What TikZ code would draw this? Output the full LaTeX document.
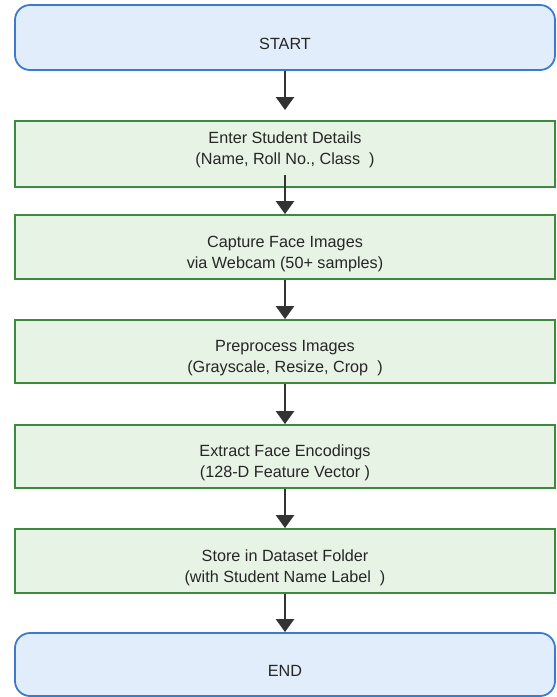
\documentclass[tikz,border=0pt]{standalone}
\usepackage{fontspec}
\setmainfont{Liberation Sans}
\usetikzlibrary{arrows.meta}
\definecolor{txtc}{HTML}{262626}
\definecolor{arrc}{HTML}{333333}
\definecolor{greenb}{HTML}{3B8A3E}
\definecolor{greenf}{HTML}{E7F3E5}
\definecolor{blueb}{HTML}{3A7BD0}
\definecolor{bluef}{HTML}{E1EDFB}
\tikzset{
  procbox/.style={draw=greenb, fill=greenf, line width=1.8pt, minimum width=540pt, inner sep=0pt},
  termbox/.style={draw=blueb, fill=bluef, line width=1.8pt, minimum width=540pt, inner sep=0pt, rounded corners=15pt},
  lbl/.style={text=txtc, font=\fontsize{16.2}{21}\selectfont, align=center, inner sep=0pt},
  flow/.style={draw=arrc, line width=2.3pt, -{Triangle[width=18pt,length=13pt]}}
}
\begin{document}
\begin{tikzpicture}[x=1pt,y=-1pt]
\useasboundingbox (0,0) rectangle (557,697);
% boxes
\node[termbox, minimum height=65pt] (s) at (285,37.5) {};
\node[procbox, minimum height=66pt] (b1) at (285,154) {};
\node[procbox, minimum height=64pt] (b2) at (285,247) {};
\node[procbox, minimum height=63pt] (b3) at (285,351.5) {};
\node[procbox, minimum height=63pt] (b4) at (285,456.5) {};
\node[procbox, minimum height=64pt] (b5) at (285,561) {};
\node[termbox, minimum height=63pt] (e) at (285,664.5) {};
% texts
\node[lbl] (ts) at (285,44) {START};
\node[lbl] (t1) at (285,149.5) {Enter Student Details\\(Name, Roll No., Class\ \ )};
\node[lbl] (t2) at (285,254) {Capture Face Images\\via Webcam (50+ samples)};
\node[lbl] (t3) at (285,358) {Preprocess Images\\(Grayscale, Resize, Crop\ \ )};
\node[lbl] (t4) at (285,462.5) {Extract Face Encodings\\(128-D Feature Vector\ )};
\node[lbl] (t5) at (285,568) {Store in Dataset Folder\\(with Student Name Label\ \ )};
\node[lbl] (te) at (285,671) {END};
% connectors
\coordinate (a1end) at (285,110);
\coordinate (a2start) at (285,175);
\draw[flow] (s.south) -- (a1end);
\draw[flow] (a2start) -- (b2.north);
\draw[flow] (b2.south) -- (b3.north);
\draw[flow] (b3.south) -- (b4.north);
\draw[flow] (b4.south) -- (b5.north);
\draw[flow] (b5.south) -- (e.north);
\end{tikzpicture}
\end{document}
